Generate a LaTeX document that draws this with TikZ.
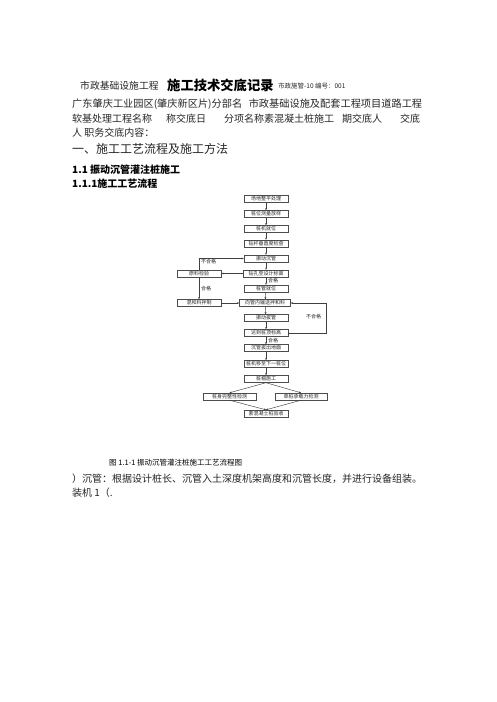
\documentclass[tikz,border=0pt]{standalone}
\usepackage{fontspec}
\setmainfont{Noto Sans CJK SC}
\usetikzlibrary{arrows.meta}
\tikzset{
  box/.style={draw=black!70,line width=0.4pt,minimum width=44pt,minimum height=7pt,inner sep=0pt,font=\fontsize{5}{5}\selectfont,text=black!85},
  lbl/.style={inner sep=0pt,font=\fontsize{5}{5}\selectfont,text=black!85},
  arr/.style={draw=black!75,line width=0.45pt,-{Stealth[length=2.2pt,width=1.8pt]}},
  txt/.style={anchor=west,inner sep=0pt,text=black!85}
}
\begin{document}
\begin{tikzpicture}[x=1pt,y=-1pt]
	\fill[white] (0,0) rectangle (496,702);
	\useasboundingbox (0,0) rectangle (496,702);
	% heading lines
	\node (t1) at (80,86)[txt,font=\fontsize{9.8}{10}\selectfont]{市政基础设施工程};
	\node (t2) at (167,85.5)[txt,text=black,font=\fontsize{13.3}{14}\selectfont\bfseries]{施工技术交底记录};
	\node (t3) at (278,86.5)[txt,font=\fontsize{6.5}{7}\selectfont]{市政施管-10 编号：001};
	\node (l1) at (72,104)[txt,font=\fontsize{10.2}{10}\selectfont]{\makebox[350pt][s]{广东肇庆工业园区(肇庆新区片)分部名 市政基础设施及配套工程项目道路工程}};
	\node (l2) at (72,118.5)[txt,font=\fontsize{10}{10}\selectfont]{软基处理工程名称\hspace{14pt}称交底日\hspace{18pt}分项名称素混凝土桩施工\hspace{8pt}期交底人\hspace{18pt}交底};
	\node (l3) at (72,132.5)[txt,font=\fontsize{10}{10}\selectfont]{人 职务交底内容：};
	\node (h1) at (72,149)[txt,font=\fontsize{12}{12}\selectfont]{一、施工工艺流程及施工方法};
	\node (h2) at (72,170)[txt,text=black,font=\fontsize{10}{10}\selectfont\bfseries]{1.1 振动沉管灌注桩施工};
	\node (h3) at (72,183.5)[txt,text=black,font=\fontsize{10}{10}\selectfont\bfseries]{1.1.1施工工艺流程};
	% main column
	\node (n1) at (266,199)[box]{场地整平处理};
	\node (n2) at (266,214)[box]{桩位测量放样};
	\node (n3) at (266,229)[box]{桩机就位};
	\node (n4) at (266,243.5)[box]{钻杆垂直度检查};
	\node (n5) at (266,258.5)[box]{振动沉管};
	\node (n6) at (266,273.5)[box,minimum width=45pt]{钻孔至设计标高};
	\node (n7) at (266,288.5)[box]{桩管就位};
	\node (n8) at (265,303)[box,minimum width=51pt]{向管内输送拌和料};
	\node (n9) at (266,318)[box]{振动拔管};
	\node (n10) at (266,333)[box]{达到桩顶标高};
	\node (n11) at (266,348)[box]{沉管拔出地面};
	\node (n12) at (266,364)[box]{桩机移至下一桩位};
	\node (n13) at (266,379)[box]{桩帽施工};
	\node (d1) at (229.5,396.5)[box,minimum width=53pt]{桩身完整性检测};
	\node (d2) at (301,396.5)[box,minimum width=52pt]{单桩承载力检测};
	\node (n14) at (266,413.5)[box]{素混凝土桩验收};
	% side column
	\node (m1) at (199,273.5)[box]{原料检验};
	\node (m2) at (199,303)[box]{混和料拌制};
	\foreach \a/\b in {n1/n2,n2/n3,n3/n4,n4/n5,n5/n6,n6/n7,n7/n8,n8/n9,n9/n10,n10/n11,n11/n12,n12/n13,m1/m2}
		\draw[arr] (\a)--(\b);
	\draw[arr] (n13.south)--(d1.north);
	\draw[arr] (n13.south)--(d2.north);
	\draw[arr] (d1.south)--(n14.north);
	\draw[arr] (d2.south)--(n14.north);
	\draw[arr] (n6.west)--(m1.east);
	\draw[arr] (m1.north)|-(n5.west);
	\draw[arr] (m2.east)--(n8.west);
	\coordinate (r1) at (326,333);
	\coordinate (r2) at (326,303);
	\draw[arr] (n10.east)--(r1)--(r2)--(n8.east);
	% labels
	\node (q1) at (201,261.5)[lbl,anchor=west]{不合格};
	\node (q2) at (201,288.5)[lbl,anchor=west]{合格};
	\node (q3) at (268,280.5)[lbl,anchor=west]{合格};
	\node (q4) at (306,317)[lbl,anchor=west]{不合格};
	\node (q5) at (268,340.5)[lbl,anchor=west]{合格};
	% caption and text below
	\node (c1) at (109,463)[txt,text=black,font=\fontsize{7.5}{8}\selectfont]{图 1.1-1 振动沉管灌注桩施工工艺流程图};
	\node (p1) at (72,478.5)[txt,font=\fontsize{10}{10}\selectfont]{）沉管：根据设计桩长、沉管入土深度机架高度和沉管长度，并进行设备组装。};
	\node (p2) at (72,493)[txt,font=\fontsize{10}{10}\selectfont]{装机 1（.};
\end{tikzpicture}
\end{document}
